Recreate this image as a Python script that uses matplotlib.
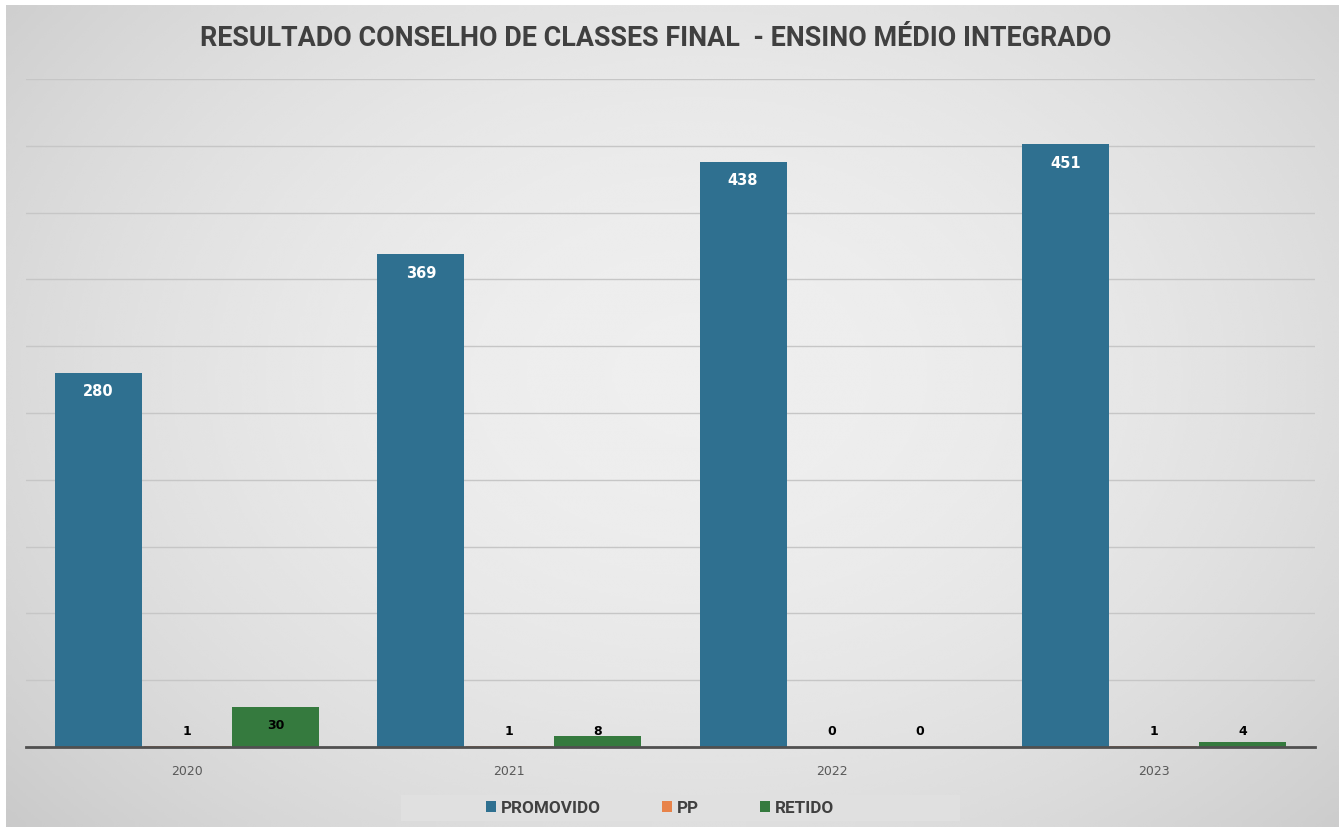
import numpy as np
import matplotlib.pyplot as plt
from matplotlib.patches import Patch, Rectangle

# data
anos = ['2020', '2021', '2022', '2023']
promovido = [280, 369, 438, 451]
pp = [1, 1, 0, 1]
retido = [30, 8, 0, 4]

series = [('PROMOVIDO', promovido, '#2f7090'),
          ('PP', pp, '#e8834a'),
          ('RETIDO', retido, '#357a3e')]

W, H = 1339, 828
fig = plt.figure(figsize=(W / 100, H / 100), dpi=100, facecolor='white')

# background panel with soft radial gradient
bg = fig.add_axes([6 / W, 0, 1 - 6 / W, 1 - 6 / H])
yy, xx = np.mgrid[0:1:300j, 0:1:500j]
r2 = ((xx - 0.52) / 0.75) ** 2 + ((yy - 0.45) / 0.9) ** 2
grad = 0.935 - 0.17 * r2
bg.imshow(np.clip(grad, 0.74, 0.95), cmap='gray', vmin=0, vmax=1,
          aspect='auto', extent=[0, 1, 0, 1], interpolation='bicubic')
bg.set_axis_off()

ax = fig.add_axes([26 / W, (H - 748) / H, (1315 - 26) / W, (748 - 80) / H])
ax.set_facecolor('none')

x = np.arange(len(anos))
width = 0.27
offsets = [-0.275, 0, 0.275]
for (name, vals, color), off in zip(series, offsets):
    ax.bar(x + off, vals, width, color=color, zorder=3, label=name)
    for xi, v in zip(x, vals):
        if name == 'PROMOVIDO':
            ax.text(xi + off, v - 13.5, str(v), ha='center', va='center',
                    color='white', fontsize=10.5, fontweight='bold', zorder=4)
        else:
            ax.text(xi + off, max(v - 13.5, 12), str(v), ha='center', va='center',
                    color='black', fontsize=9, fontweight='bold', zorder=4)

ax.set_xlim(-0.5, 3.5)
ax.set_ylim(0, 500)
ax.set_yticks(np.arange(0, 501, 50))
ax.yaxis.grid(True, color='#c6c6c6', linewidth=1)
ax.set_axisbelow(True)
ax.tick_params(axis='y', left=False, labelleft=False)
ax.set_xticks(x)
ax.set_xticklabels(anos, fontsize=9, color='#595959')
ax.tick_params(axis='x', length=0, pad=12)
for s in ['top', 'right', 'left']:
    ax.spines[s].set_visible(False)
ax.spines['bottom'].set_color('#505050')
ax.spines['bottom'].set_linewidth(2)
ax.spines['bottom'].set_zorder(5)

fig.text(656 / W, 1 - 39 / H,
         'RESULTADO CONSELHO DE CLASSES FINAL  - ENSINO MÉDIO INTEGRADO',
         ha='center', va='center', fontsize=19.4, fontweight='bold', color='#404040',
         family=['Roboto', 'DejaVu Sans'])

# legend band
fig.patches.append(Rectangle((401 / W, 1 - 822 / H), (960 - 401) / W, 26 / H,
                             transform=fig.transFigure, facecolor='#e0e0e0',
                             edgecolor='none', zorder=1))
handles = [Patch(facecolor=c, edgecolor='none') for _, _, c in series]
leg = fig.legend(handles, [n for n, _, _ in series], loc='center',
                 bbox_to_anchor=(660 / W, 1 - 809 / H), ncol=3, frameon=False,
                 handlelength=0.6, handleheight=0.6, handletextpad=0.25,
                 columnspacing=3.6,
                 prop={'weight': 'bold', 'size': 12.3, 'family': ['Roboto', 'DejaVu Sans']})
for t in leg.get_texts():
    t.set_color('#404040')

fig.savefig('out.png', dpi=100, facecolor='white')
